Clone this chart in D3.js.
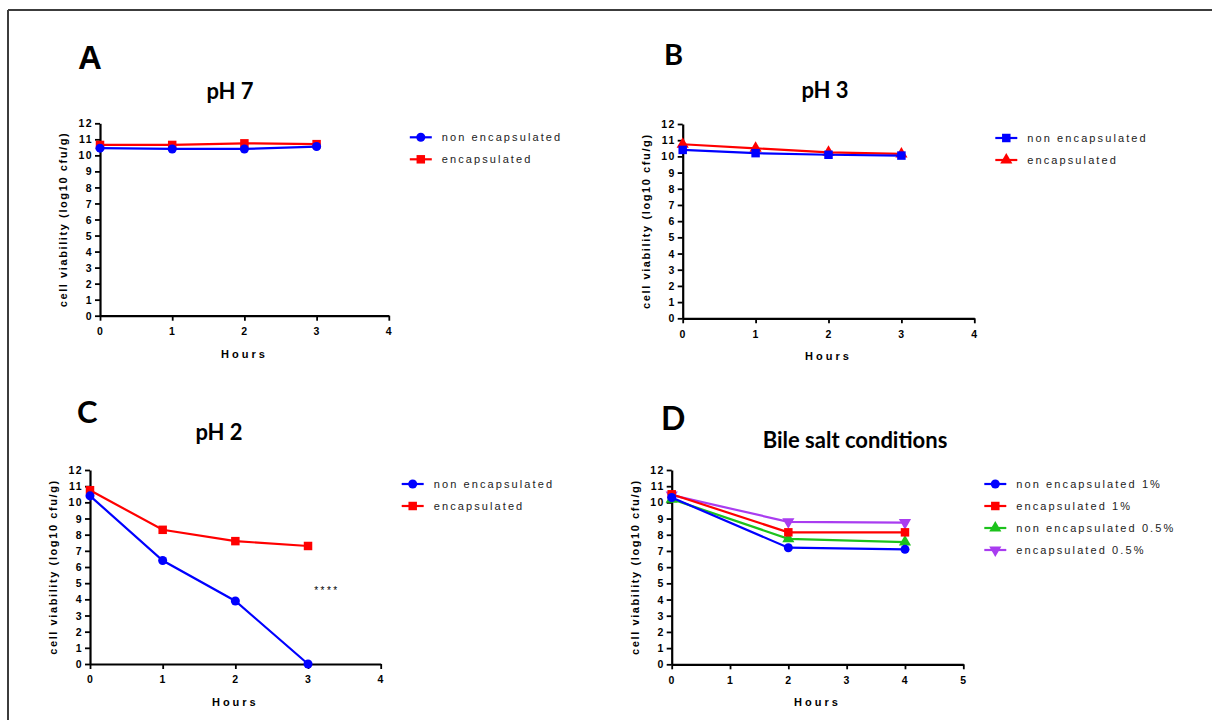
<!DOCTYPE html>
<html>
<head>
<meta charset="utf-8">
<script src="https://cdn.jsdelivr.net/npm/d3@7"></script>
<style>
  html, body { margin: 0; padding: 0; background: #fff; }
  svg { display: block; }
</style>
</head>
<body>
<div id="chart"></div>
<script>
const width = 1212;
const height = 720;

// data
const hours4 = [0, 1, 2, 3];
const ph7Non = [10.45, 10.4, 10.4, 10.55];
const ph7Enc = [10.65, 10.65, 10.75, 10.7];
const ph3Non = [10.4, 10.2, 10.1, 10.05];
const ph3Enc = [10.75, 10.5, 10.25, 10.15];
const ph2Non = [10.4, 6.4, 3.9, 0];
const ph2Enc = [10.75, 8.3, 7.6, 7.3];
const bileHours = [0, 2, 4];
const bileNon1 = [10.3, 7.2, 7.1];
const bileEnc1 = [10.5, 8.15, 8.15];
const bileNon05 = [10.2, 7.75, 7.55];
const bileEnc05 = [10.45, 8.8, 8.75];

const yTicks = d3.range(0, 13);
const yLabel = "cell viability (log10 cfu/g)";
const xLabel = "Hours";

const svg = d3.select("#chart").append("svg")
  .attr("width", width)
  .attr("height", height);

// frame lines (top and left edge of the scanned page)
svg.append("line").attr("x1", 8).attr("x2", width).attr("y1", 10).attr("y2", 10)
  .attr("stroke", "#3c3c3c").attr("stroke-width", 2);
svg.append("line").attr("x1", 8).attr("x2", 8).attr("y1", 10).attr("y2", height)
  .attr("stroke", "#3c3c3c").attr("stroke-width", 2);

const symbols = {
  circle: d3.symbol().type(d3.symbolCircle).size(64)(),
  square: d3.symbol().type(d3.symbolSquare).size(72)(),
  triUp: d3.symbol().type(d3.symbolTriangle).size(64)(),
  triDown: d3.symbol().type(d3.symbolTriangle).size(64)()
};

const panels = [
  {
    letter: "A", letterX: 78, letterY: 69, letterFont: "'Liberation Sans', Arial, sans-serif", letterSize: 33,
    title: "pH 7", titleX: 230, titleY: 99,
    x0: 100, x1: 388.8, yTop: 123.3, yBottom: 315.7, xMax: 4,
    hours: hours4,
    series: [
      { name: "non encapsulated", values: ph7Non, color: "#0000ff", shape: "circle" },
      { name: "encapsulated", values: ph7Enc, color: "#ff0000", shape: "square" }
    ]
  },
  {
    letter: "B", letterX: 664, letterY: 65, letterFont: "Lato, sans-serif", letterSize: 29,
    title: "pH 3", titleX: 825, titleY: 98,
    x0: 682.7, x1: 974.3, yTop: 124, yBottom: 318.3, xMax: 4,
    hours: hours4,
    series: [
      { name: "non encapsulated", values: ph3Non, color: "#0000ff", shape: "square" },
      { name: "encapsulated", values: ph3Enc, color: "#ff0000", shape: "triUp" }
    ]
  },
  {
    letter: "C", letterX: 77, letterY: 423, letterFont: "Lato, sans-serif", letterSize: 31,
    title: "pH 2", titleX: 219, titleY: 440,
    x0: 90, x1: 380.7, yTop: 470, yBottom: 664, xMax: 4,
    hours: hours4,
    series: [
      { name: "non encapsulated", values: ph2Non, color: "#0000ff", shape: "circle" },
      { name: "encapsulated", values: ph2Enc, color: "#ff0000", shape: "square" }
    ],
    note: { text: "****", x: 3.26, y: 4.3 }
  },
  {
    letter: "D", letterX: 661, letterY: 430, letterFont: "Lato, sans-serif", letterSize: 32,
    title: "Bile salt conditions", titleX: 855, titleY: 448,
    x0: 671.7, x1: 963.3, yTop: 470, yBottom: 664.3, xMax: 5,
    hours: bileHours,
    series: [
      { name: "non encapsulated 1%", values: bileNon1, color: "#0000ff", shape: "circle" },
      { name: "encapsulated 1%", values: bileEnc1, color: "#ff0000", shape: "square" },
      { name: "non encapsulated 0.5%", values: bileNon05, color: "#1cc21c", shape: "triUp" },
      { name: "encapsulated 0.5%", values: bileEnc05, color: "#a93cf0", shape: "triDown" }
    ]
  }
];

const tickFont = "'Liberation Sans', Arial, sans-serif";

panels.forEach(drawPanel);

function drawPanel(p) {
  const g = svg.append("g");

  const x = d3.scaleLinear().domain([0, p.xMax]).range([p.x0, p.x1]);
  const y = d3.scaleLinear().domain([0, 12]).range([p.yBottom, p.yTop]);

  g.append("text")
    .attr("x", p.letterX).attr("y", p.letterY)
    .attr("font-family", p.letterFont)
    .attr("font-weight", 700)
    .attr("font-size", p.letterSize)
    .attr("fill", "#000")
    .text(p.letter);

  g.append("text")
    .attr("x", p.titleX).attr("y", p.titleY)
    .attr("text-anchor", "middle")
    .attr("font-family", "Lato, sans-serif")
    .attr("font-weight", 700)
    .attr("font-size", 22)
    .attr("fill", "#000")
    .text(p.title);

  const xAxis = g.append("g")
    .attr("transform", `translate(0, ${p.yBottom})`)
    .call(d3.axisBottom(x).tickValues(d3.range(0, p.xMax + 1)).tickSize(5).tickSizeOuter(0).tickPadding(7).tickFormat(d3.format("d")));

  const yAxis = g.append("g")
    .attr("transform", `translate(${p.x0}, 0)`)
    .call(d3.axisLeft(y).tickValues(yTicks).tickSize(5).tickSizeOuter(0).tickPadding(2).tickFormat(d3.format("d")));

  [xAxis, yAxis].forEach((ax) => {
    ax.select(".domain").attr("stroke", "#000").attr("stroke-width", 2.2);
    ax.selectAll(".tick line").attr("stroke", "#000").attr("stroke-width", 1.8);
    ax.selectAll(".tick text")
      .attr("fill", "#000")
      .attr("font-family", tickFont)
      .attr("font-weight", 700)
      .attr("font-size", 10.5)
      .style("letter-spacing", "1.4px");
  });
  yAxis.selectAll(".tick text").attr("dy", "0.34em");

  g.append("text")
    .attr("x", (p.x0 + p.x1) / 2)
    .attr("y", p.yBottom + 42)
    .attr("text-anchor", "middle")
    .attr("font-family", tickFont)
    .attr("font-weight", 700)
    .attr("font-size", 11)
    .style("letter-spacing", "3px")
    .attr("fill", "#000")
    .text(xLabel);

  g.append("text")
    .attr("transform", `translate(${p.x0 - 33}, ${(p.yTop + p.yBottom) / 2}) rotate(-90)`)
    .attr("text-anchor", "middle")
    .attr("font-family", tickFont)
    .attr("font-weight", 700)
    .attr("font-size", 11)
    .style("letter-spacing", "1.6px")
    .attr("fill", "#000")
    .text(yLabel);

  const line = d3.line()
    .x((d) => x(d.h))
    .y((d) => y(d.v));

  // first series ends up on top
  p.series.slice().reverse().forEach((s) => {
    const pts = p.hours.map((h, i) => ({ h: h, v: s.values[i] }));
    g.append("path")
      .datum(pts)
      .attr("fill", "none")
      .attr("stroke", s.color)
      .attr("stroke-width", 2.2)
      .attr("d", line);
    g.selectAll(null)
      .data(pts)
      .join("path")
      .attr("d", symbols[s.shape])
      .attr("transform", (d) => `translate(${x(d.h)}, ${y(d.v)})${s.shape === "triDown" ? " rotate(180)" : ""}`)
      .attr("fill", s.color);
  });

  if (p.note) {
    g.append("text")
      .attr("x", x(p.note.x)).attr("y", y(p.note.y))
      .attr("text-anchor", "middle")
      .attr("font-family", tickFont)
      .attr("font-size", 10)
      .style("letter-spacing", "2.5px")
      .attr("fill", "#000")
      .text(p.note.text);
  }

  const legend = g.append("g")
    .attr("transform", `translate(${p.x1 + 32}, ${p.yTop + 14})`);
  p.series.forEach((s, i) => {
    const row = legend.append("g").attr("transform", `translate(0, ${i * 22})`);
    row.append("line")
      .attr("x1", -11).attr("x2", 11)
      .attr("stroke", s.color).attr("stroke-width", 2.2);
    row.append("path")
      .attr("d", symbols[s.shape])
      .attr("transform", s.shape === "triDown" ? "rotate(180)" : null)
      .attr("fill", s.color);
    row.append("text")
      .attr("x", 21)
      .attr("dy", "0.35em")
      .attr("font-family", tickFont)
      .attr("font-size", 11)
      .style("letter-spacing", "2.1px")
      .attr("fill", "#222")
      .text(s.name);
  });
}
</script>
</body>
</html>
